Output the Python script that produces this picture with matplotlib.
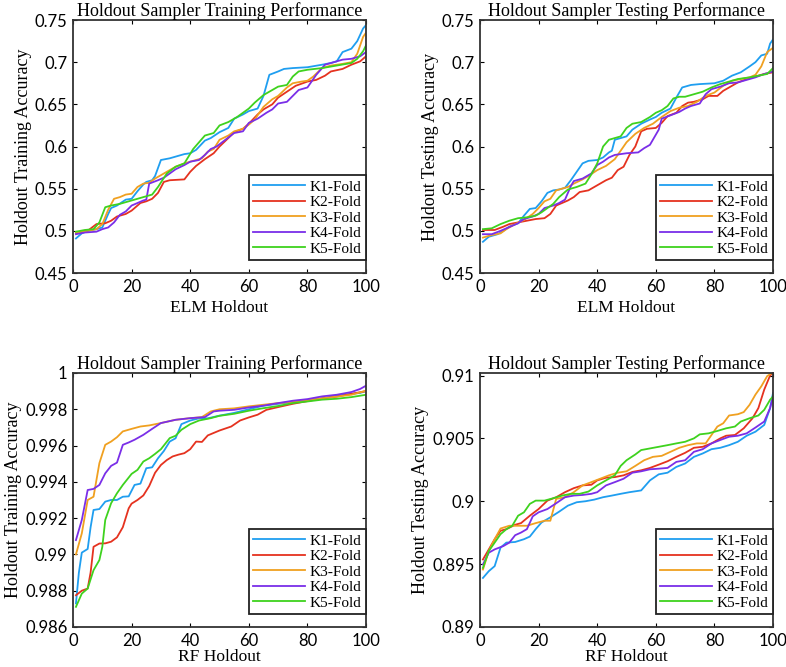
import matplotlib
matplotlib.use("Agg")
import numpy as np
from matplotlib import pyplot as plt

# ---- ELM holdout, training (top left) ----
elm_tr_x1 = [1, 3, 5, 8, 10, 12, 13, 15, 18, 20, 22, 24, 25, 27, 28, 30, 33, 35, 38, 40, 42, 45, 47, 50, 53, 55, 58, 60, 63, 65, 67, 70, 72, 75, 80, 85, 88, 90, 92, 95, 97, 99, 100]
elm_tr_y1 = [0.491, 0.497, 0.500, 0.502, 0.504, 0.520, 0.527, 0.530, 0.537, 0.538, 0.547, 0.555, 0.558, 0.560, 0.565, 0.584, 0.586, 0.588, 0.591, 0.592, 0.596, 0.607, 0.610, 0.617, 0.622, 0.633, 0.638, 0.642, 0.645, 0.660, 0.685, 0.689, 0.692, 0.693, 0.694, 0.697, 0.699, 0.701, 0.712, 0.716, 0.725, 0.740, 0.744]
elm_tr_x2 = [1, 5, 8, 11, 13, 15, 18, 20, 23, 25, 27, 29, 31, 33, 38, 40, 42, 45, 48, 50, 53, 55, 58, 60, 63, 65, 68, 70, 73, 76, 80, 83, 86, 88, 92, 95, 98, 100]
elm_tr_y2 = [0.497, 0.500, 0.508, 0.509, 0.512, 0.517, 0.520, 0.524, 0.533, 0.535, 0.538, 0.545, 0.558, 0.560, 0.561, 0.570, 0.577, 0.585, 0.592, 0.600, 0.610, 0.617, 0.621, 0.627, 0.638, 0.644, 0.650, 0.658, 0.665, 0.672, 0.677, 0.679, 0.684, 0.689, 0.692, 0.697, 0.701, 0.707]
elm_tr_x3 = [1, 5, 8, 10, 12, 14, 16, 18, 20, 22, 24, 26, 28, 30, 33, 35, 38, 41, 44, 46, 48, 50, 53, 55, 58, 60, 62, 65, 68, 70, 73, 75, 78, 80, 82, 85, 88, 92, 95, 97, 99, 100]
elm_tr_y3 = [0.498, 0.500, 0.502, 0.508, 0.525, 0.538, 0.540, 0.543, 0.544, 0.552, 0.556, 0.557, 0.562, 0.566, 0.572, 0.576, 0.580, 0.583, 0.586, 0.594, 0.597, 0.608, 0.613, 0.618, 0.621, 0.626, 0.632, 0.647, 0.656, 0.660, 0.670, 0.675, 0.677, 0.678, 0.683, 0.693, 0.696, 0.698, 0.700, 0.710, 0.730, 0.735]
elm_tr_x4 = [1, 4, 8, 10, 12, 14, 16, 18, 20, 22, 24, 25, 26, 29, 31, 33, 35, 38, 40, 43, 45, 47, 49, 52, 55, 58, 60, 63, 66, 68, 70, 73, 75, 77, 80, 83, 86, 89, 92, 95, 98, 100]
elm_tr_y4 = [0.496, 0.498, 0.499, 0.502, 0.504, 0.510, 0.519, 0.523, 0.530, 0.533, 0.536, 0.537, 0.556, 0.560, 0.563, 0.568, 0.573, 0.578, 0.582, 0.584, 0.590, 0.597, 0.600, 0.608, 0.616, 0.618, 0.628, 0.633, 0.640, 0.644, 0.651, 0.653, 0.660, 0.667, 0.670, 0.685, 0.697, 0.700, 0.703, 0.704, 0.707, 0.712]
elm_tr_x5 = [1, 4, 7, 9, 11, 13, 16, 19, 22, 25, 27, 29, 32, 35, 38, 41, 43, 45, 48, 50, 53, 56, 58, 60, 62, 65, 68, 70, 73, 75, 77, 80, 85, 90, 95, 97, 99, 100]
elm_tr_y5 = [0.499, 0.501, 0.502, 0.510, 0.528, 0.530, 0.532, 0.535, 0.538, 0.541, 0.543, 0.552, 0.568, 0.576, 0.580, 0.597, 0.605, 0.613, 0.616, 0.625, 0.629, 0.635, 0.640, 0.645, 0.652, 0.661, 0.667, 0.671, 0.673, 0.683, 0.689, 0.691, 0.693, 0.696, 0.699, 0.704, 0.713, 0.720]

# ---- ELM holdout, testing (top right) ----
elm_te_x1 = [1, 3, 6, 8, 10, 13, 15, 17, 19, 21, 23, 25, 27, 29, 31, 33, 35, 37, 40, 42, 44, 45, 46, 48, 50, 52, 55, 58, 60, 62, 65, 67, 69, 72, 75, 80, 83, 86, 89, 92, 94, 96, 98, 99, 100]
elm_te_y1 = [0.487, 0.493, 0.496, 0.500, 0.505, 0.509, 0.518, 0.526, 0.527, 0.535, 0.545, 0.548, 0.549, 0.551, 0.560, 0.570, 0.580, 0.583, 0.584, 0.587, 0.593, 0.595, 0.608, 0.610, 0.612, 0.620, 0.627, 0.632, 0.635, 0.640, 0.645, 0.658, 0.670, 0.673, 0.674, 0.675, 0.678, 0.684, 0.688, 0.695, 0.700, 0.708, 0.710, 0.722, 0.727]
elm_te_x2 = [1, 5, 8, 10, 13, 16, 19, 22, 24, 26, 28, 30, 32, 34, 37, 39, 41, 43, 45, 47, 49, 51, 53, 55, 57, 60, 62, 64, 67, 69, 71, 73, 76, 78, 81, 83, 85, 88, 91, 94, 97, 100]
elm_te_y2 = [0.501, 0.501, 0.505, 0.508, 0.510, 0.512, 0.514, 0.515, 0.520, 0.530, 0.533, 0.536, 0.540, 0.546, 0.548, 0.552, 0.556, 0.560, 0.563, 0.572, 0.576, 0.590, 0.600, 0.618, 0.621, 0.622, 0.628, 0.636, 0.640, 0.648, 0.652, 0.653, 0.656, 0.660, 0.660, 0.666, 0.670, 0.676, 0.680, 0.683, 0.686, 0.688]
elm_te_x3 = [1, 4, 7, 9, 12, 15, 18, 20, 22, 24, 26, 28, 30, 32, 35, 37, 40, 43, 46, 48, 50, 53, 56, 59, 62, 65, 68, 71, 74, 77, 80, 83, 86, 89, 92, 94, 96, 98, 100]
elm_te_y3 = [0.492, 0.495, 0.497, 0.502, 0.508, 0.513, 0.520, 0.527, 0.535, 0.538, 0.548, 0.550, 0.552, 0.556, 0.561, 0.565, 0.572, 0.577, 0.585, 0.595, 0.605, 0.615, 0.622, 0.627, 0.635, 0.642, 0.646, 0.648, 0.653, 0.660, 0.664, 0.672, 0.678, 0.680, 0.682, 0.685, 0.695, 0.712, 0.717]
elm_te_x4 = [1, 4, 7, 9, 11, 13, 15, 18, 20, 22, 25, 27, 29, 31, 32, 35, 38, 40, 42, 44, 46, 50, 54, 56, 58, 59, 61, 62, 65, 68, 70, 72, 75, 77, 79, 82, 85, 88, 91, 94, 97, 100]
elm_te_y4 = [0.496, 0.496, 0.500, 0.503, 0.506, 0.509, 0.514, 0.517, 0.520, 0.527, 0.530, 0.533, 0.537, 0.553, 0.559, 0.562, 0.568, 0.578, 0.582, 0.587, 0.590, 0.592, 0.593, 0.598, 0.602, 0.608, 0.620, 0.633, 0.637, 0.641, 0.645, 0.648, 0.651, 0.662, 0.668, 0.671, 0.675, 0.676, 0.679, 0.682, 0.686, 0.689]
elm_te_x5 = [1, 4, 7, 10, 13, 16, 19, 21, 23, 25, 27, 30, 33, 36, 38, 40, 42, 44, 46, 48, 50, 52, 55, 58, 60, 62, 64, 66, 68, 70, 73, 76, 79, 82, 85, 88, 92, 95, 98, 100]
elm_te_y5 = [0.502, 0.503, 0.508, 0.512, 0.515, 0.516, 0.518, 0.522, 0.527, 0.532, 0.540, 0.549, 0.552, 0.556, 0.567, 0.580, 0.600, 0.608, 0.610, 0.612, 0.622, 0.627, 0.629, 0.635, 0.640, 0.643, 0.648, 0.657, 0.659, 0.659, 0.662, 0.665, 0.670, 0.674, 0.677, 0.680, 0.682, 0.684, 0.686, 0.693]

# ---- RF holdout, training (bottom left) ----
rf_tr_x1 = [1, 2, 3, 5, 6, 7, 9, 11, 13, 15, 17, 19, 21, 23, 25, 27, 29, 31, 33, 35, 37, 40, 43, 46, 50, 55, 60, 65, 70, 75, 80, 85, 90, 95, 98, 100]
rf_tr_y1 = [0.9873, 0.9890, 0.9901, 0.9903, 0.9915, 0.99245, 0.9925, 0.99291, 0.9930, 0.9930, 0.99318, 0.9932, 0.99383, 0.9939, 0.99475, 0.9948, 0.9953, 0.9957, 0.99622, 0.9964, 0.99718, 0.99738, 0.9975, 0.9975, 0.99765, 0.9978, 0.9980, 0.9982, 0.9983, 0.9984, 0.9985, 0.9986, 0.99875, 0.99885, 0.9989, 0.9990]
rf_tr_x2 = [1, 3, 5, 6, 7, 9, 11, 13, 15, 17, 19, 20, 22, 24, 26, 28, 30, 32, 34, 36, 38, 40, 42, 44, 46, 50, 54, 57, 60, 63, 66, 70, 75, 80, 85, 90, 95, 100]
rf_tr_y2 = [0.98775, 0.9880, 0.98812, 0.9890, 0.99042, 0.9906, 0.99061, 0.9907, 0.99094, 0.9915, 0.99254, 0.9928, 0.9930, 0.99325, 0.99377, 0.9945, 0.99493, 0.9952, 0.9954, 0.9955, 0.99558, 0.9958, 0.99622, 0.9962, 0.99656, 0.99683, 0.99705, 0.99738, 0.99755, 0.9977, 0.99797, 0.99812, 0.9983, 0.99845, 0.9986, 0.9987, 0.99885, 0.9990]
rf_tr_x3 = [1, 3, 5, 7, 9, 11, 13, 15, 17, 20, 23, 26, 30, 35, 40, 44, 47, 50, 55, 60, 65, 70, 75, 80, 85, 90, 95, 100]
rf_tr_y3 = [0.9900, 0.99116, 0.9930, 0.99318, 0.99503, 0.99604, 0.99622, 0.99646, 0.99678, 0.99692, 0.99705, 0.99711, 0.99724, 0.99742, 0.99751, 0.99757, 0.99788, 0.9980, 0.99805, 0.99816, 0.99825, 0.99834, 0.9984, 0.9985, 0.9986, 0.9987, 0.9988, 0.99902]
rf_tr_x4 = [1, 3, 5, 7, 9, 11, 13, 15, 17, 19, 21, 24, 27, 30, 35, 40, 45, 48, 50, 55, 60, 65, 70, 75, 80, 85, 90, 95, 98, 100]
rf_tr_y4 = [0.99079, 0.9919, 0.99355, 0.99361, 0.99383, 0.99447, 0.99488, 0.99506, 0.99604, 0.99617, 0.99632, 0.99659, 0.99692, 0.99724, 0.99742, 0.99751, 0.99757, 0.99788, 0.99792, 0.99797, 0.9981, 0.9982, 0.99834, 0.99847, 0.99856, 0.99871, 0.9988, 0.99895, 0.99912, 0.9993]
rf_tr_x5 = [1, 3, 5, 7, 9, 10, 11, 13, 15, 17, 20, 22, 24, 26, 28, 30, 33, 35, 37, 40, 43, 47, 50, 55, 60, 65, 70, 75, 80, 85, 90, 95, 100]
rf_tr_y5 = [0.98711, 0.98784, 0.98812, 0.98913, 0.98969, 0.99042, 0.9919, 0.99282, 0.99337, 0.99383, 0.99444, 0.99466, 0.99512, 0.9953, 0.99554, 0.9958, 0.99641, 0.99654, 0.99687, 0.99718, 0.99738, 0.99751, 0.99764, 0.99775, 0.99792, 0.99806, 0.99818, 0.99834, 0.99843, 0.99853, 0.99858, 0.99867, 0.9988]

# ---- RF holdout, testing (bottom right) ----
rf_te_x1 = [1, 3, 5, 7, 9, 12, 15, 17, 19, 21, 24, 27, 30, 33, 36, 39, 42, 45, 48, 51, 55, 58, 61, 64, 67, 70, 73, 76, 79, 82, 85, 88, 91, 94, 97, 99, 100]
rf_te_y1 = [0.8939, 0.89444, 0.89484, 0.89631, 0.89671, 0.89676, 0.89698, 0.89719, 0.89778, 0.89831, 0.89872, 0.89917, 0.89965, 0.89992, 0.9000, 0.90013, 0.90032, 0.90045, 0.90059, 0.90072, 0.90086, 0.90166, 0.90214, 0.90227, 0.90273, 0.9030, 0.90353, 0.9038, 0.90414, 0.90425, 0.90446, 0.90473, 0.90521, 0.90553, 0.90607, 0.90741, 0.90861]
rf_te_x2 = [1, 3, 5, 7, 9, 12, 14, 17, 20, 23, 26, 29, 32, 35, 38, 40, 43, 46, 49, 52, 55, 58, 61, 64, 67, 70, 73, 76, 79, 82, 84, 87, 90, 93, 95, 97, 99, 100]
rf_te_y2 = [0.89537, 0.89617, 0.89698, 0.89765, 0.89778, 0.89813, 0.89826, 0.89885, 0.89938, 0.90005, 0.90032, 0.90072, 0.90104, 0.90126, 0.90131, 0.90166, 0.90187, 0.90192, 0.90206, 0.90233, 0.90246, 0.90265, 0.90291, 0.90318, 0.90353, 0.90385, 0.90425, 0.90433, 0.9046, 0.9050, 0.90521, 0.90527, 0.9058, 0.9066, 0.90741, 0.90888, 0.9100, 0.91021]
rf_te_x3 = [1, 3, 5, 7, 10, 13, 16, 19, 22, 24, 26, 29, 32, 35, 38, 41, 44, 47, 50, 53, 56, 59, 62, 65, 68, 71, 74, 77, 79, 81, 83, 85, 88, 90, 92, 94, 96, 98, 100]
rf_te_y3 = [0.89457, 0.89604, 0.89698, 0.89783, 0.89805, 0.89805, 0.89805, 0.89826, 0.89845, 0.89845, 0.90019, 0.90032, 0.90072, 0.90126, 0.90152, 0.90179, 0.90206, 0.90227, 0.90238, 0.90281, 0.90326, 0.90353, 0.90361, 0.90393, 0.90425, 0.90446, 0.9046, 0.9046, 0.90527, 0.90594, 0.9062, 0.90682, 0.90692, 0.90709, 0.90767, 0.90848, 0.90914, 0.90995, 0.91027]
rf_te_x4 = [1, 3, 5, 8, 10, 12, 14, 16, 18, 20, 23, 26, 29, 32, 35, 38, 40, 43, 46, 49, 52, 55, 58, 61, 64, 67, 70, 73, 76, 79, 82, 85, 88, 91, 94, 97, 99, 100]
rf_te_y4 = [0.89497, 0.89591, 0.89617, 0.89644, 0.89671, 0.8973, 0.89751, 0.89778, 0.8988, 0.89912, 0.89938, 0.89984, 0.90032, 0.90045, 0.9005, 0.90059, 0.90072, 0.90126, 0.90152, 0.90179, 0.90227, 0.90238, 0.90254, 0.90259, 0.90265, 0.90313, 0.90326, 0.90393, 0.90414, 0.9046, 0.90487, 0.90513, 0.90521, 0.9054, 0.90586, 0.90634, 0.90741, 0.90834]
rf_te_x5 = [1, 3, 5, 7, 9, 11, 13, 15, 17, 19, 22, 25, 28, 31, 34, 37, 40, 43, 46, 48, 50, 53, 55, 58, 61, 64, 67, 70, 73, 75, 78, 81, 84, 87, 89, 92, 95, 97, 99, 100]
rf_te_y5 = [0.8947, 0.89604, 0.89671, 0.89738, 0.89778, 0.89805, 0.89885, 0.89912, 0.89979, 0.90005, 0.90005, 0.90024, 0.90045, 0.90059, 0.90059, 0.90077, 0.90126, 0.90166, 0.90206, 0.90281, 0.90326, 0.90372, 0.90407, 0.9042, 0.90433, 0.90446, 0.9046, 0.90473, 0.9050, 0.90532, 0.9054, 0.90559, 0.9058, 0.90594, 0.90634, 0.9066, 0.90682, 0.90727, 0.90807, 0.90834]

fold_labels = ["K1-Fold", "K2-Fold", "K3-Fold", "K4-Fold", "K5-Fold"]
colors = ["#1f9ef0", "#e5321f", "#f0a020", "#7a2ee8", "#3ed21e"]

serif = "Liberation Serif"
tickfont = "Lato"

panels = [
    ([elm_tr_x1, elm_tr_x2, elm_tr_x3, elm_tr_x4, elm_tr_x5],
     [elm_tr_y1, elm_tr_y2, elm_tr_y3, elm_tr_y4, elm_tr_y5],
     "Holdout Sampler Training Performance", "ELM Holdout", "Holdout Training Accuracy",
     (0.45, 0.75), [0.45, 0.5, 0.55, 0.6, 0.65, 0.7, 0.75], ["0.45", "0.5", "0.55", "0.6", "0.65", "0.7", "0.75"],
     [0.0929, 0.5907, 0.3728, 0.3793], 4),
    ([elm_te_x1, elm_te_x2, elm_te_x3, elm_te_x4, elm_te_x5],
     [elm_te_y1, elm_te_y2, elm_te_y3, elm_te_y4, elm_te_y5],
     "Holdout Sampler Testing Performance", "ELM Holdout", "Holdout Testing Accuracy",
     (0.45, 0.75), [0.45, 0.5, 0.55, 0.6, 0.65, 0.7, 0.75], ["0.45", "0.5", "0.55", "0.6", "0.65", "0.7", "0.75"],
     [0.6107, 0.5907, 0.3728, 0.3793], 4),
    ([rf_tr_x1, rf_tr_x2, rf_tr_x3, rf_tr_x4, rf_tr_x5],
     [rf_tr_y1, rf_tr_y2, rf_tr_y3, rf_tr_y4, rf_tr_y5],
     "Holdout Sampler Training Performance", "RF Holdout", "Holdout Training Accuracy",
     (0.986, 1.0), [0.986, 0.988, 0.99, 0.992, 0.994, 0.996, 0.998, 1.0],
     ["0.986", "0.988", "0.99", "0.992", "0.994", "0.996", "0.998", "1"],
     [0.0929, 0.0600, 0.3728, 0.3808], 0),
    ([rf_te_x1, rf_te_x2, rf_te_x3, rf_te_x4, rf_te_x5],
     [rf_te_y1, rf_te_y2, rf_te_y3, rf_te_y4, rf_te_y5],
     "Holdout Sampler Testing Performance", "RF Holdout", "Holdout Testing Accuracy",
     (0.89, 0.9102), [0.89, 0.895, 0.9, 0.905, 0.91], ["0.89", "0.895", "0.9", "0.905", "0.91"],
     [0.6107, 0.0600, 0.3728, 0.3808], 0),
]

fig = plt.figure(figsize=(7.86, 6.67), dpi=100)
for xs, ys, title, xlabel, ylabel, ylim, yt, ytl, pos, xpad in panels:
    ax = fig.add_axes(pos)
    for x, y, c, lab in zip(xs, ys, colors, fold_labels):
        ax.plot(x, y, color=c, lw=1.3, label=lab)
    ax.set_xlim(0, 100)
    ax.set_ylim(*ylim)
    ax.set_xticks([0, 20, 40, 60, 80, 100])
    ax.set_yticks(yt)
    ax.set_yticklabels(ytl)
    ax.tick_params(direction="in", length=3, width=0.8, top=True, right=True, labelsize=12, pad=4)
    for t in ax.get_xticklabels() + ax.get_yticklabels():
        t.set_family(tickfont)
    for s in ax.spines.values():
        s.set_linewidth(1.3)
        s.set_color("#333333")
    ax.set_title(title, family=serif, fontsize=13, pad=3)
    ax.set_xlabel(xlabel, family=serif, fontsize=12.5, labelpad=xpad)
    ax.set_ylabel(ylabel, family=serif, fontsize=13, labelpad=2)
    leg = ax.legend(loc="lower right", bbox_to_anchor=(1.0, 0.05), borderaxespad=0,
                    prop={"family": serif, "size": 11}, handlelength=3.4, handletextpad=0.3,
                    labelspacing=0.12, borderpad=0.3, fancybox=False, framealpha=1)
    leg.get_frame().set_edgecolor("#222222")
    leg.get_frame().set_linewidth(1.3)

plt.savefig("out.png", dpi=100)
